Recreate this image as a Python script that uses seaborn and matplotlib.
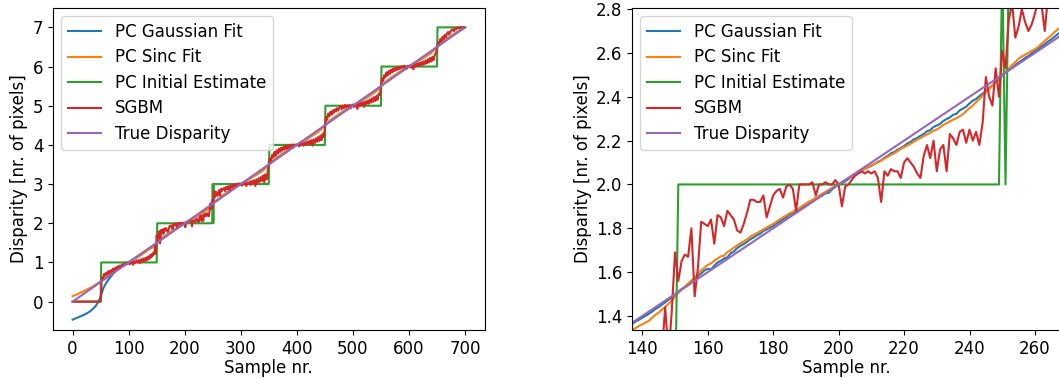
import numpy as np
import pandas as pd
import matplotlib
matplotlib.use("Agg")
import matplotlib.pyplot as plt
import seaborn as sns

# ---------------------------------------------------------------------------
# Sample positions
# ---------------------------------------------------------------------------
# per-sample window around the first disparity transitions
fine_x = list(range(137, 269))
# SGBM outside that window (every 2nd sample)
sgbm_lo_x = list(range(0, 137, 2))
sgbm_hi_x = list(range(270, 701, 2))
# sub-pixel fits outside that window
fit_lo_x = list(range(0, 136, 5))
fit_hi_x = list(range(270, 701, 10))

# ---------------------------------------------------------------------------
# Disparity values [pixels]
# ---------------------------------------------------------------------------
true_x = [0, 700]
true_y = [0.0, 7.0]

init_x = [0, 50, 51, 150, 151, 249, 250, 251, 252, 350, 351, 450, 451,
          550, 551, 650, 651, 700]
init_y = [0, 0, 1, 1, 2, 2, 3, 2, 3, 3, 4, 4, 5, 5, 6, 6, 7, 7]

sgbm_lo = [0.0] * 26 + [
    0.62, 0.55, 0.71, 0.66, 0.74, 0.69, 0.78, 0.72, 0.80, 0.76,
    0.84, 0.79, 0.86, 0.82, 0.90, 0.85, 0.92, 0.88, 0.95, 0.91,
    0.97, 0.93, 1.00, 0.96, 1.01, 0.95, 1.02, 0.99, 0.94, 1.03,
    0.99, 1.05, 1.00, 1.06, 0.98, 1.08, 1.03, 1.10, 1.02, 1.12,
    1.05, 1.15, 1.08]

sgbm_fine = [
    1.13, 1.18, 1.12, 1.20, 1.15, 1.22, 1.17, 1.25, 1.21, 1.24,
    1.44, 1.22, 1.42, 1.69, 1.56, 1.65, 1.68, 1.67, 1.80, 1.49,
    1.62, 1.83, 1.82, 1.81, 1.84, 1.73, 1.86, 1.85, 1.81, 1.88,
    1.86, 1.84, 1.79, 1.78, 1.82, 1.87, 1.93, 1.93, 1.92, 1.92,
    1.95, 1.85, 1.90, 1.95, 1.97, 1.98, 1.94, 1.99, 2.00, 1.98,
    1.88, 2.00, 2.00, 2.00, 2.00, 2.01, 1.95, 2.00, 2.00, 2.01,
    2.00, 2.00, 2.02, 2.00, 1.90, 1.99, 2.00, 2.02, 2.04, 2.05,
    2.06, 2.05, 2.06, 2.05, 2.06, 2.03, 1.92, 2.06, 2.04, 2.07,
    2.06, 2.06, 2.03, 2.10, 2.12, 2.10, 2.08, 2.05, 2.03, 2.13,
    2.18, 2.12, 2.20, 2.06, 2.16, 2.18, 2.06, 2.23, 2.21, 2.18,
    2.24, 2.25, 2.19, 2.25, 2.20, 2.24, 2.18, 2.28, 2.49, 2.40,
    2.36, 2.53, 2.40, 2.61, 2.53, 2.75, 2.83, 2.67, 2.72, 2.80,
    2.74, 2.70, 2.73, 2.78, 2.84, 2.82, 2.70, 2.86, 2.88, 2.82,
    2.85, 2.87]

sgbm_hi = [
    2.90, 2.82, 2.93, 2.87, 2.95, 2.84, 2.96, 2.91, 2.98, 2.93,
    3.00, 2.95, 3.01, 2.97, 3.02, 3.00, 2.96, 3.02, 2.99, 3.03,
    2.95, 3.04, 3.00, 3.06, 2.98, 3.08, 3.01, 3.10, 2.95, 3.12,
    3.03, 3.15, 3.06, 3.18, 3.08, 3.22, 3.04, 3.25, 3.12, 3.30,
    3.55,
    3.66, 3.58, 3.75, 3.68, 3.82, 3.72, 3.86, 3.78, 3.90, 3.82,
    3.93, 3.85, 3.95, 3.88, 3.97, 3.90, 3.99, 3.92, 4.00, 3.95,
    4.01, 3.93, 4.01, 3.98, 4.00, 4.02, 3.96, 4.03, 3.99, 4.05,
    3.98, 4.06, 4.00, 4.08, 4.01, 4.10, 4.03, 4.12, 3.98, 4.14,
    4.05, 4.17, 4.08, 4.20, 4.10, 4.24, 4.12, 4.28, 4.20, 4.42,
    4.72, 4.64, 4.80, 4.73, 4.85, 4.77, 4.88, 4.82, 4.91, 4.85,
    4.94, 4.88, 4.96, 4.99, 4.91, 5.00, 4.94, 5.02, 4.96, 5.01,
    4.97, 5.02, 4.93, 5.01, 5.03, 4.97, 5.04, 5.00, 4.92, 5.05,
    4.99, 5.07, 5.02, 5.09, 4.97, 5.11, 5.04, 5.13, 5.05, 5.16,
    5.08, 5.19, 5.10, 5.22, 5.12, 5.25, 5.15, 5.30, 5.28, 5.50,
    5.70, 5.63, 5.78, 5.72, 5.85, 5.77, 5.89, 5.81, 5.92, 5.85,
    5.95, 5.88, 5.97, 5.91, 5.99, 5.93, 6.00, 5.95, 6.01, 5.97,
    6.02, 5.98, 5.94, 6.02, 6.00, 6.03, 5.97, 6.04, 5.93, 6.05,
    6.00, 6.07, 6.01, 6.09, 6.03, 6.11, 6.04, 6.13, 6.06, 6.16,
    6.08, 6.19, 6.11, 6.22, 6.13, 6.25, 6.16, 6.30, 6.32, 6.48,
    6.62, 6.55, 6.70, 6.64, 6.76, 6.70, 6.81, 6.75, 6.85, 6.88,
    6.82, 6.90, 6.93, 6.95, 6.90, 6.97, 6.95, 6.99, 7.00, 6.97,
    7.01, 7.00, 6.99, 7.01, 7.00]

gauss_lo = [
    -0.46, -0.43, -0.40, -0.37, -0.34, -0.30, -0.26, -0.20, -0.13, -0.03,
    0.13, 0.35, 0.48, 0.58, 0.67, 0.76, 0.83, 0.89, 0.94, 0.98,
    1.01, 1.055, 1.10, 1.15, 1.195, 1.245, 1.295, 1.345]

gauss_fine = [
    1.365, 1.375, 1.383, 1.392, 1.401, 1.410, 1.420, 1.432, 1.440, 1.452,
    1.462, 1.474, 1.484, 1.497, 1.510, 1.523, 1.531, 1.545, 1.556, 1.568,
    1.582, 1.594, 1.608, 1.615, 1.612, 1.630, 1.644, 1.652, 1.662, 1.668,
    1.686, 1.694, 1.710, 1.720, 1.728, 1.738, 1.750, 1.758, 1.768, 1.775,
    1.788, 1.795, 1.803, 1.810, 1.822, 1.830, 1.842, 1.850, 1.862, 1.868,
    1.880, 1.886, 1.897, 1.905, 1.915, 1.924, 1.934, 1.942, 1.950, 1.960,
    1.962, 1.978, 1.990, 2.000, 2.006, 2.014, 2.025, 2.036, 2.044, 2.053,
    2.062, 2.072, 2.078, 2.085, 2.094, 2.103, 2.110, 2.122, 2.130, 2.142,
    2.148, 2.158, 2.166, 2.175, 2.187, 2.194, 2.206, 2.212, 2.222, 2.230,
    2.243, 2.248, 2.262, 2.269, 2.276, 2.290, 2.298, 2.306, 2.318, 2.322,
    2.338, 2.346, 2.355, 2.370, 2.382, 2.390, 2.403, 2.414, 2.426, 2.440,
    2.452, 2.466, 2.482, 2.497, 2.510, 2.520, 2.532, 2.545, 2.556, 2.566,
    2.578, 2.586, 2.598, 2.609, 2.618, 2.630, 2.640, 2.652, 2.662, 2.674,
    2.686, 2.696]

gauss_hi = [
    2.72, 2.815, 2.91, 3.0, 3.085, 3.18, 3.27, 3.37, 3.5, 3.615,
    3.72, 3.815, 3.91, 4.0, 4.085, 4.18, 4.27, 4.37, 4.5, 4.615,
    4.72, 4.815, 4.91, 5.0, 5.085, 5.18, 5.27, 5.37, 5.5, 5.615,
    5.72, 5.815, 5.91, 6.0, 6.085, 6.18, 6.27, 6.37, 6.5, 6.615,
    6.72, 6.815, 6.91, 7.0]

sinc_lo = [
    0.14, 0.17, 0.20, 0.235, 0.27, 0.305, 0.34, 0.38, 0.425, 0.47,
    0.515, 0.57, 0.625, 0.68, 0.735, 0.785, 0.83, 0.875, 0.92, 0.96,
    0.995, 1.035, 1.08, 1.125, 1.17, 1.215, 1.265, 1.32]

sinc_fine = [
    1.336, 1.345, 1.355, 1.362, 1.370, 1.378, 1.392, 1.405, 1.415, 1.430,
    1.442, 1.455, 1.470, 1.488, 1.505, 1.520, 1.535, 1.548, 1.562, 1.575,
    1.592, 1.608, 1.620, 1.633, 1.640, 1.652, 1.662, 1.672, 1.675, 1.692,
    1.700, 1.712, 1.722, 1.732, 1.740, 1.750, 1.762, 1.770, 1.778, 1.786,
    1.795, 1.804, 1.812, 1.820, 1.830, 1.840, 1.850, 1.858, 1.868, 1.875,
    1.885, 1.892, 1.903, 1.912, 1.922, 1.930, 1.940, 1.948, 1.958, 1.966,
    1.975, 1.985, 1.993, 2.002, 2.010, 2.020, 2.030, 2.037, 2.045, 2.055,
    2.063, 2.070, 2.078, 2.088, 2.094, 2.100, 2.108, 2.118, 2.126, 2.135,
    2.142, 2.152, 2.162, 2.170, 2.178, 2.186, 2.195, 2.204, 2.212, 2.220,
    2.228, 2.236, 2.245, 2.251, 2.260, 2.272, 2.280, 2.288, 2.296, 2.302,
    2.312, 2.320, 2.335, 2.348, 2.360, 2.375, 2.390, 2.405, 2.420, 2.435,
    2.452, 2.468, 2.485, 2.500, 2.514, 2.528, 2.545, 2.558, 2.574, 2.584,
    2.592, 2.600, 2.610, 2.617, 2.628, 2.642, 2.655, 2.668, 2.680, 2.695,
    2.708, 2.720]

sinc_hi = [
    2.735, 2.83, 2.92, 3.0, 3.085, 3.17, 3.255, 3.35, 3.5, 3.63,
    3.735, 3.83, 3.92, 4.0, 4.085, 4.17, 4.255, 4.35, 4.5, 4.63,
    4.735, 4.83, 4.92, 5.0, 5.085, 5.17, 5.255, 5.35, 5.5, 5.63,
    5.735, 5.83, 5.92, 6.0, 6.085, 6.17, 6.255, 6.35, 6.5, 6.63,
    6.735, 6.83, 6.92, 7.0]

# ---------------------------------------------------------------------------
# Assemble the series
# ---------------------------------------------------------------------------
series = [
    ("PC Gaussian Fit", fit_lo_x + fine_x + fit_hi_x,
     gauss_lo + gauss_fine + gauss_hi, "#1f77b4"),
    ("PC Sinc Fit", fit_lo_x + fine_x + fit_hi_x,
     sinc_lo + sinc_fine + sinc_hi, "#ff7f0e"),
    ("PC Initial Estimate", init_x, init_y, "#2ca02c"),
    ("SGBM", sgbm_lo_x + fine_x + sgbm_hi_x,
     sgbm_lo + sgbm_fine + sgbm_hi, "#d62728"),
    ("True Disparity", true_x, true_y, "#9467bd"),
]

plt.rcParams["font.size"] = 12
plt.rcParams["font.family"] = ["DejaVu Sans"]

W, H = 1059, 378
fig = plt.figure(figsize=(W / 100, H / 100), dpi=100)
ax_full = fig.add_axes([53 / W, 48 / H, 431.6 / W, 322 / H])
ax_zoom = fig.add_axes([632 / W, 48 / H, (1061 - 632) / W, 322 / H])

for ax in (ax_full, ax_zoom):
    for name, xs, ys, col in series:
        df = pd.DataFrame({"x": xs, "y": ys})
        sns.lineplot(data=df, x="x", y="y", ax=ax, color=col, label=name,
                     estimator=None, sort=False, linewidth=1.5)
    ax.set_xlabel("Sample nr.", labelpad=1)
    ax.set_ylabel("Disparity [nr. of pixels]", labelpad=3)
    ax.legend(loc="upper left", labelspacing=0.45)

ax_full.set_xlim(-35, 735)
ax_full.set_ylim(-0.724, 7.494)
ax_full.set_xticks([0, 100, 200, 300, 400, 500, 600, 700])
ax_full.set_yticks([0, 1, 2, 3, 4, 5, 6, 7])

ax_zoom.set_xlim(136.85, 267.96)
ax_zoom.set_ylim(1.336, 2.805)
ax_zoom.set_xticks([140, 160, 180, 200, 220, 240, 260])
ax_zoom.set_yticks([1.4, 1.6, 1.8, 2.0, 2.2, 2.4, 2.6, 2.8])

fig.savefig("out.png", dpi=100)
